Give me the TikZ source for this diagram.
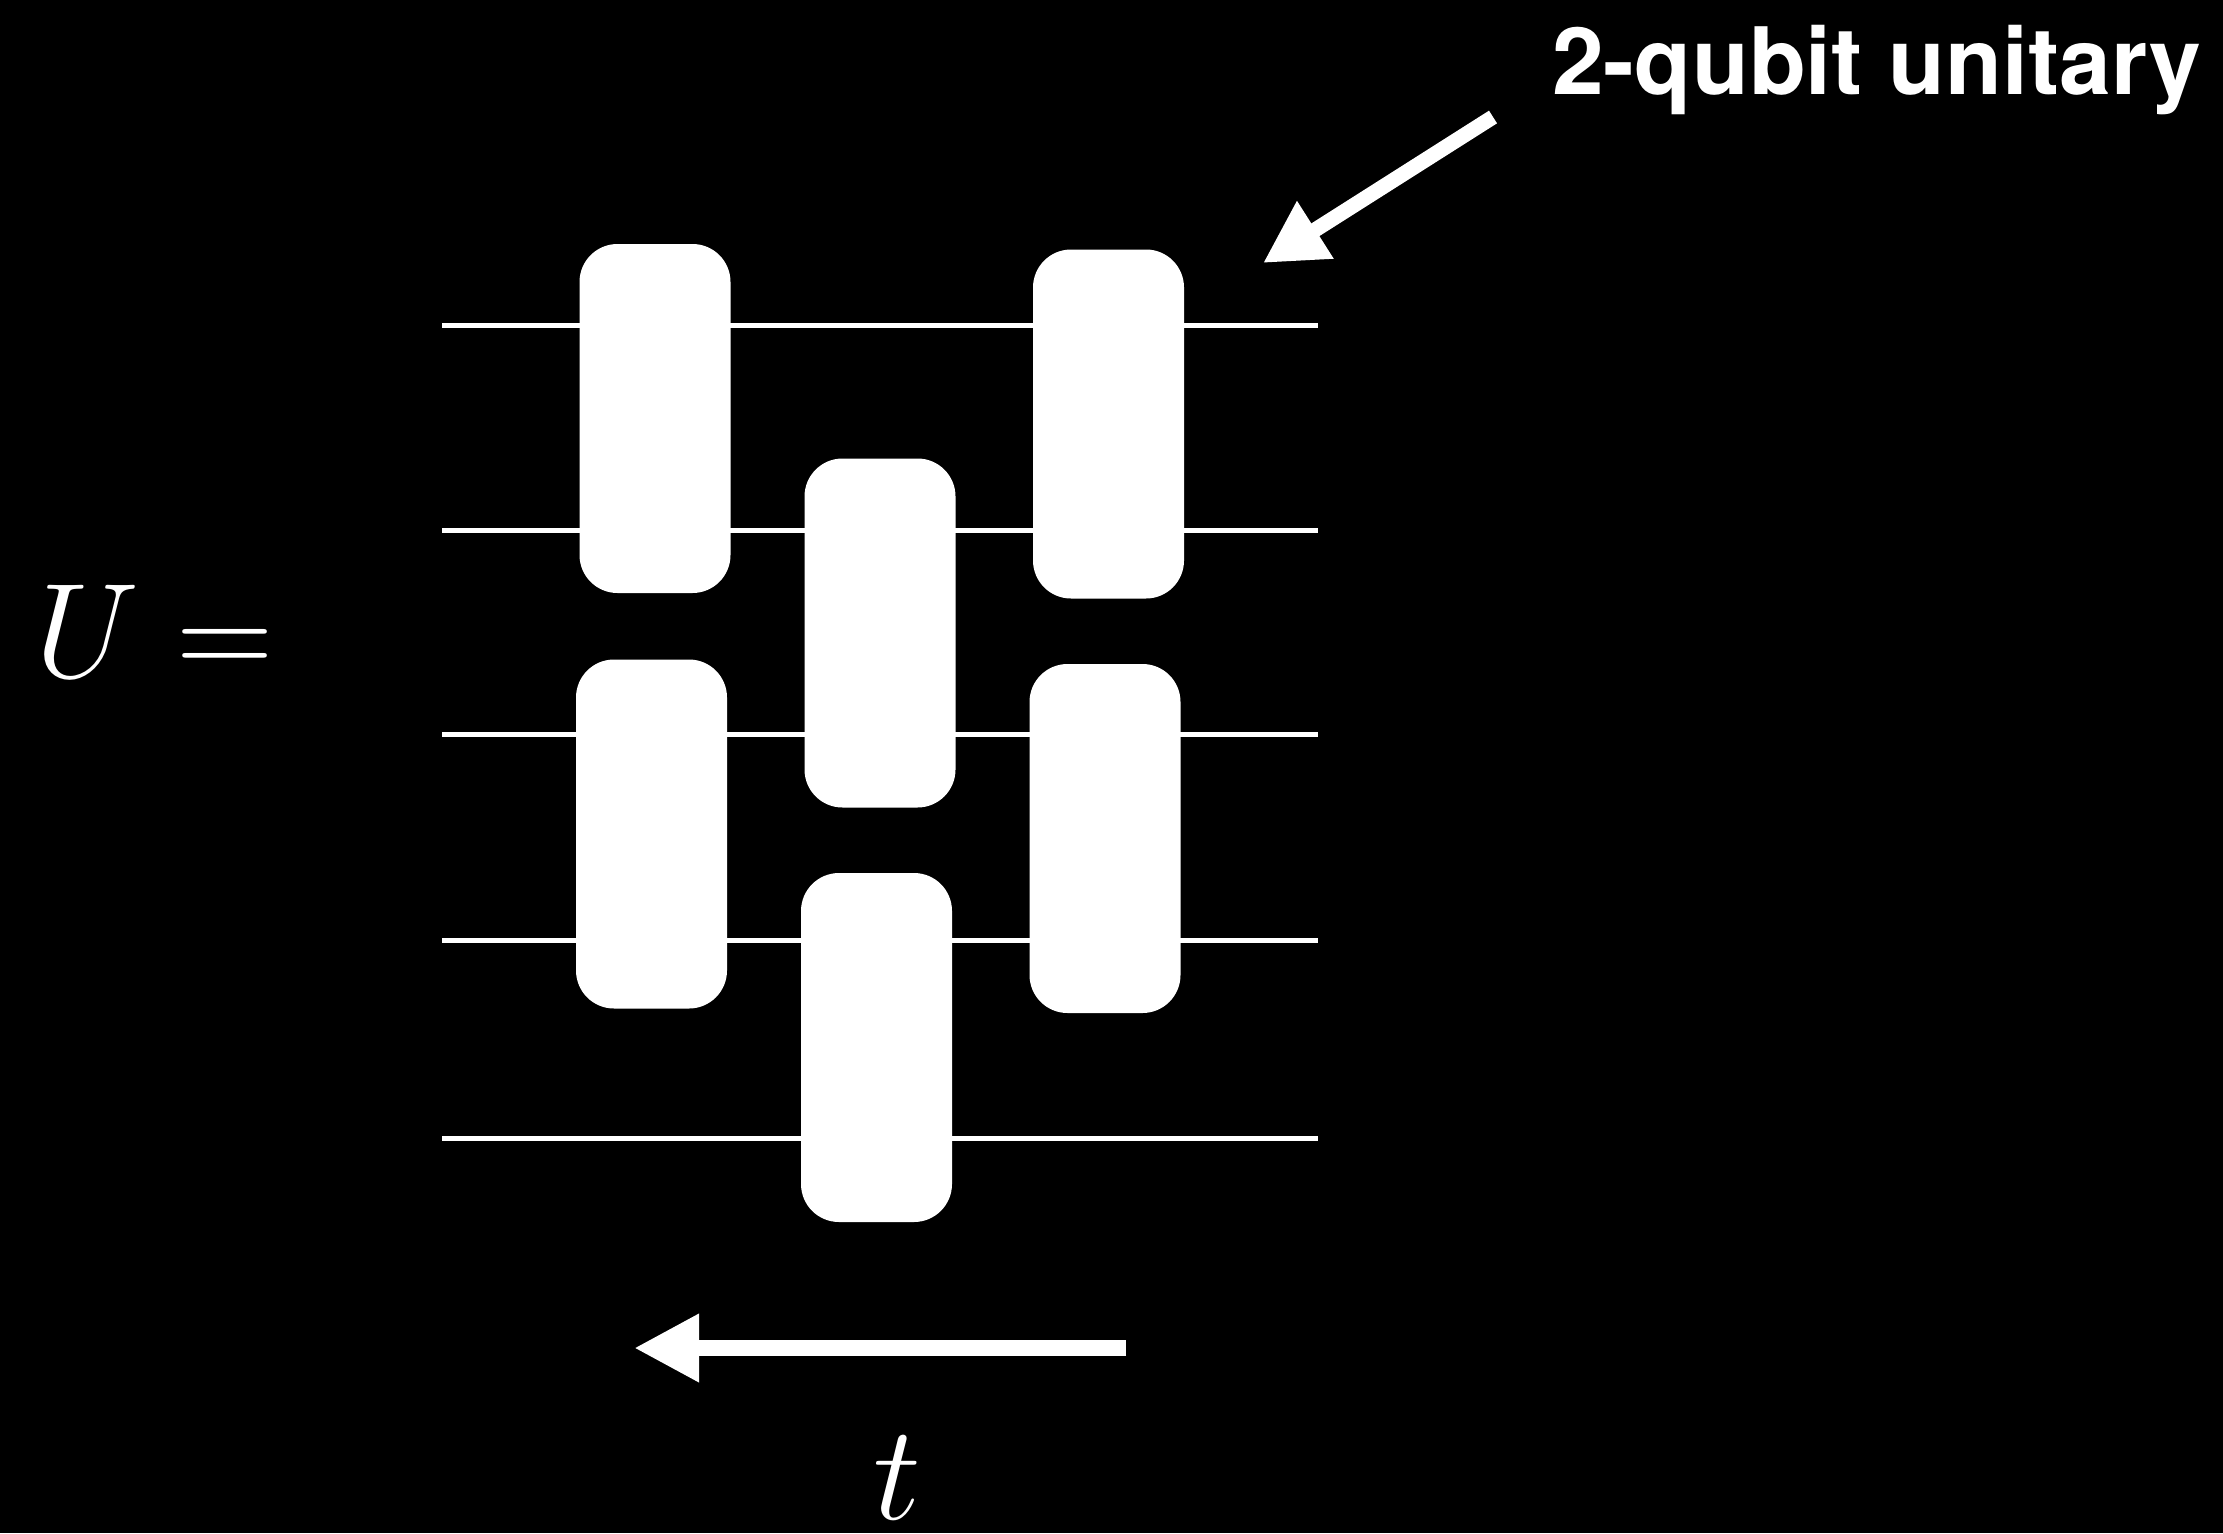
\RequirePackage{fix-cm}
\documentclass[tikz,border=0pt]{standalone}
\usepackage{fontspec}
\newfontfamily\hfont{TeX Gyre Heros}
\usetikzlibrary{arrows.meta}
\begin{document}
\begin{tikzpicture}[x=1pt,y=-1pt,
  gate/.style={fill=white,draw=none,rounded corners=38pt,minimum width=151pt,minimum height=349pt,inner sep=0pt},
  wire/.style={draw=white,line width=5pt},
  fatarrow/.style={draw=white,line width=15pt,-{Triangle[length=62pt,width=64pt]}},
  timearrow/.style={draw=white,line width=16pt,-{Triangle[length=65pt,width=64pt]}},
  lbl/.style={text=white,inner sep=0pt}]
\fill[black] (0,0) rectangle (2223,1533);
\useasboundingbox (0,0) rectangle (2223,1533);
% wires
\foreach \i/\y in {1/325,2/530,3/734,4/940,5/1138}{
  \coordinate (wl\i) at (442,\y);
  \coordinate (wr\i) at (1318,\y);
  \draw[wire] (wl\i) -- (wr\i);
}
% gates
\node[gate] (g1) at (655,418.5) {};
\node[gate] (g2) at (1108.5,424) {};
\node[gate] (g3) at (880,633) {};
\node[gate] (g4) at (651.5,834) {};
\node[gate] (g5) at (1105,838.5) {};
\node[gate] (g6) at (876.5,1047.5) {};
% label and arrow
\node[lbl,anchor=base west,font=\hfont\bfseries\fontsize{93}{93}\selectfont] (name) at (1552,95) {2-qubit unitary};
\coordinate (tail) at (1493,117);
\coordinate (tip) at (1263,263);
\draw[fatarrow] (tail) -- (tip);
% U =
\node[lbl,anchor=base west,font=\fontsize{135}{135}\selectfont] (ueq) at (35,677) {$U =$};
% time arrow
\coordinate (ts) at (1126,1348);
\coordinate (te) at (634,1348);
\draw[timearrow] (ts) -- (te);
\node[lbl,anchor=base,font=\fontsize{135}{135}\selectfont] (t) at (897,1519) {$t$};
\end{tikzpicture}
\end{document}
